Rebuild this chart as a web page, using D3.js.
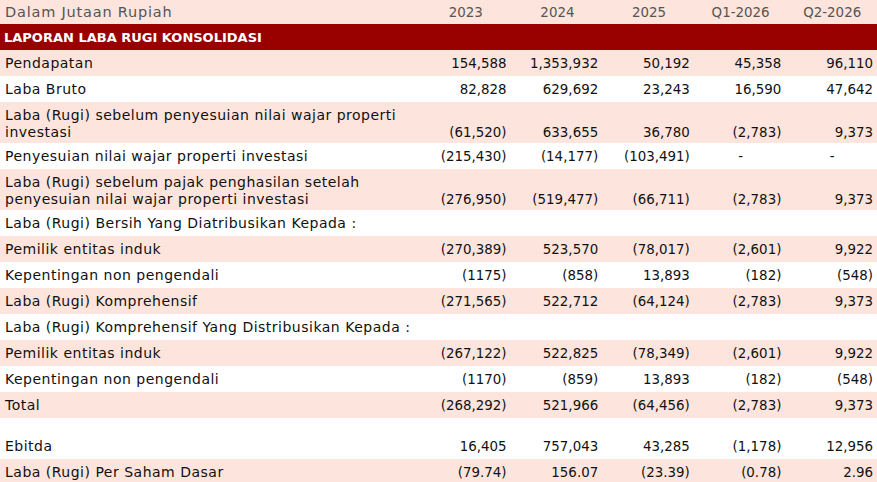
<!DOCTYPE html>
<html>
<head>
<meta charset="utf-8">
<script src="https://cdn.jsdelivr.net/npm/d3@7"></script>
<style>
  html, body { margin: 0; padding: 0; background: #fff; }
  svg { display: block; font-family: 'DejaVu Sans', sans-serif; }
</style>
</head>
<body>
<div id="table"></div>
<script>
'use strict'

const unitLabel = 'Dalam Jutaan Rupiah'
const title = 'LAPORAN LABA RUGI KONSOLIDASI'
const periods = ['2023', '2024', '2025', 'Q1-2026', 'Q2-2026']

// null label = spacer row
const rowLabels = [
  'Pendapatan',
  'Laba Bruto',
  'Laba (Rugi) sebelum penyesuian nilai wajar properti\ninvestasi',
  'Penyesuian nilai wajar properti investasi',
  'Laba (Rugi) sebelum pajak penghasilan setelah\npenyesuian nilai wajar properti investasi',
  'Laba (Rugi) Bersih Yang Diatribusikan Kepada :',
  'Pemilik entitas induk',
  'Kepentingan non pengendali',
  'Laba (Rugi) Komprehensif',
  'Laba (Rugi) Komprehensif Yang Distribusikan Kepada :',
  'Pemilik entitas induk',
  'Kepentingan non pengendali',
  'Total',
  null,
  'Ebitda',
  'Laba (Rugi) Per Saham Dasar'
]

const values2023 = ['154,588', '82,828', '(61,520)', '(215,430)', '(276,950)', '', '(270,389)', '(1175)', '(271,565)', '', '(267,122)', '(1170)', '(268,292)', '', '16,405', '(79.74)']
const values2024 = ['1,353,932', '629,692', '633,655', '(14,177)', '(519,477)', '', '523,570', '(858)', '522,712', '', '522,825', '(859)', '521,966', '', '757,043', '156.07']
const values2025 = ['50,192', '23,243', '36,780', '(103,491)', '(66,711)', '', '(78,017)', '13,893', '(64,124)', '', '(78,349)', '13,893', '(64,456)', '', '43,285', '(23.39)']
const valuesQ1 = ['45,358', '16,590', '(2,783)', '-', '(2,783)', '', '(2,601)', '(182)', '(2,783)', '', '(2,601)', '(182)', '(2,783)', '', '(1,178)', '(0.78)']
const valuesQ2 = ['96,110', '47,642', '9,373', '-', '9,373', '', '9,922', '(548)', '9,373', '', '9,922', '(548)', '9,373', '', '12,956', '2.96']

const columns = [values2023, values2024, values2025, valuesQ1, valuesQ2]

const width = 877
const height = 482
const lineH = 17
const rowH = 26
const spacerH = 15
const fontSize = 13.4
const pink = '#fde4dc'
const red = '#990000'

const svg = d3.select('#table')
  .append('svg')
  .attr('width', width)
  .attr('height', height)

const x = d3.scaleBand()
  .domain(periods)
  .range([420, 878])

// build row layout
let y = 50
let stripe = 0
const rows = rowLabels.map((label, i) => {
  const lines = label === null ? [] : label.split('\n')
  const h = label === null ? spacerH : rowH + (lines.length - 1) * 15
  const row = {
    label,
    lines,
    y,
    h,
    shaded: label !== null && stripe % 2 === 0,
    values: columns.map(c => c[i])
  }
  if (label !== null) stripe++
  y += h
  return row
})

// header
svg.append('rect')
  .attr('x', 0).attr('y', 0)
  .attr('width', width).attr('height', 24)
  .attr('fill', pink)

svg.append('text')
  .attr('x', 5).attr('y', 17)
  .attr('font-size', 14.5)
  .attr('letter-spacing', 0.8)
  .attr('fill', '#555')
  .text(unitLabel)

svg.append('g')
  .selectAll('text')
  .data(periods)
  .enter()
  .append('text')
  .attr('x', d => x(d) + x.bandwidth() / 2)
  .attr('y', 17)
  .attr('text-anchor', 'middle')
  .attr('font-size', fontSize)
  .attr('fill', '#555')
  .text(d => d)

// title band
svg.append('rect')
  .attr('x', 0).attr('y', 24)
  .attr('width', width).attr('height', 26)
  .attr('fill', red)

svg.append('text')
  .attr('x', 4).attr('y', 42)
  .attr('font-size', 13)
  .attr('font-weight', 'bold')
  .attr('fill', '#fff')
  .text(title)

// body rows
const rowG = svg.append('g')
  .attr('class', 'rows')
  .selectAll('g.row')
  .data(rows)
  .enter()
  .append('g')
  .attr('class', 'row')
  .attr('transform', d => `translate(0,${d.y})`)

rowG.append('rect')
  .attr('width', width)
  .attr('height', d => d.h)
  .attr('fill', d => d.shaded ? pink : '#fff')

// labels are wider in the reference face, so stretch a little
rowG.selectAll('text.label')
  .data(d => d.lines.map((t, i) => ({ t, i })))
  .enter()
  .append('text')
  .attr('class', 'label')
  .attr('x', 5)
  .attr('y', d => 18 + d.i * lineH)
  .attr('font-size', 14)
  .attr('letter-spacing', 0.5)
  .attr('fill', '#111')
  .text(d => d.t)

rowG.selectAll('text.value')
  .data(d => d.values.map((v, i) => ({ v, p: periods[i], line: d.lines.length - 1 })))
  .enter()
  .append('text')
  .attr('class', 'value')
  .attr('x', d => d.v === '-' ? x(d.p) + x.bandwidth() / 2 : x(d.p) + x.bandwidth() - 5)
  .attr('y', d => 18 + Math.max(d.line, 0) * lineH)
  .attr('text-anchor', d => d.v === '-' ? 'middle' : 'end')
  .attr('font-size', fontSize)
  .attr('fill', '#111')
  .text(d => d.v)
</script>
</body>
</html>
